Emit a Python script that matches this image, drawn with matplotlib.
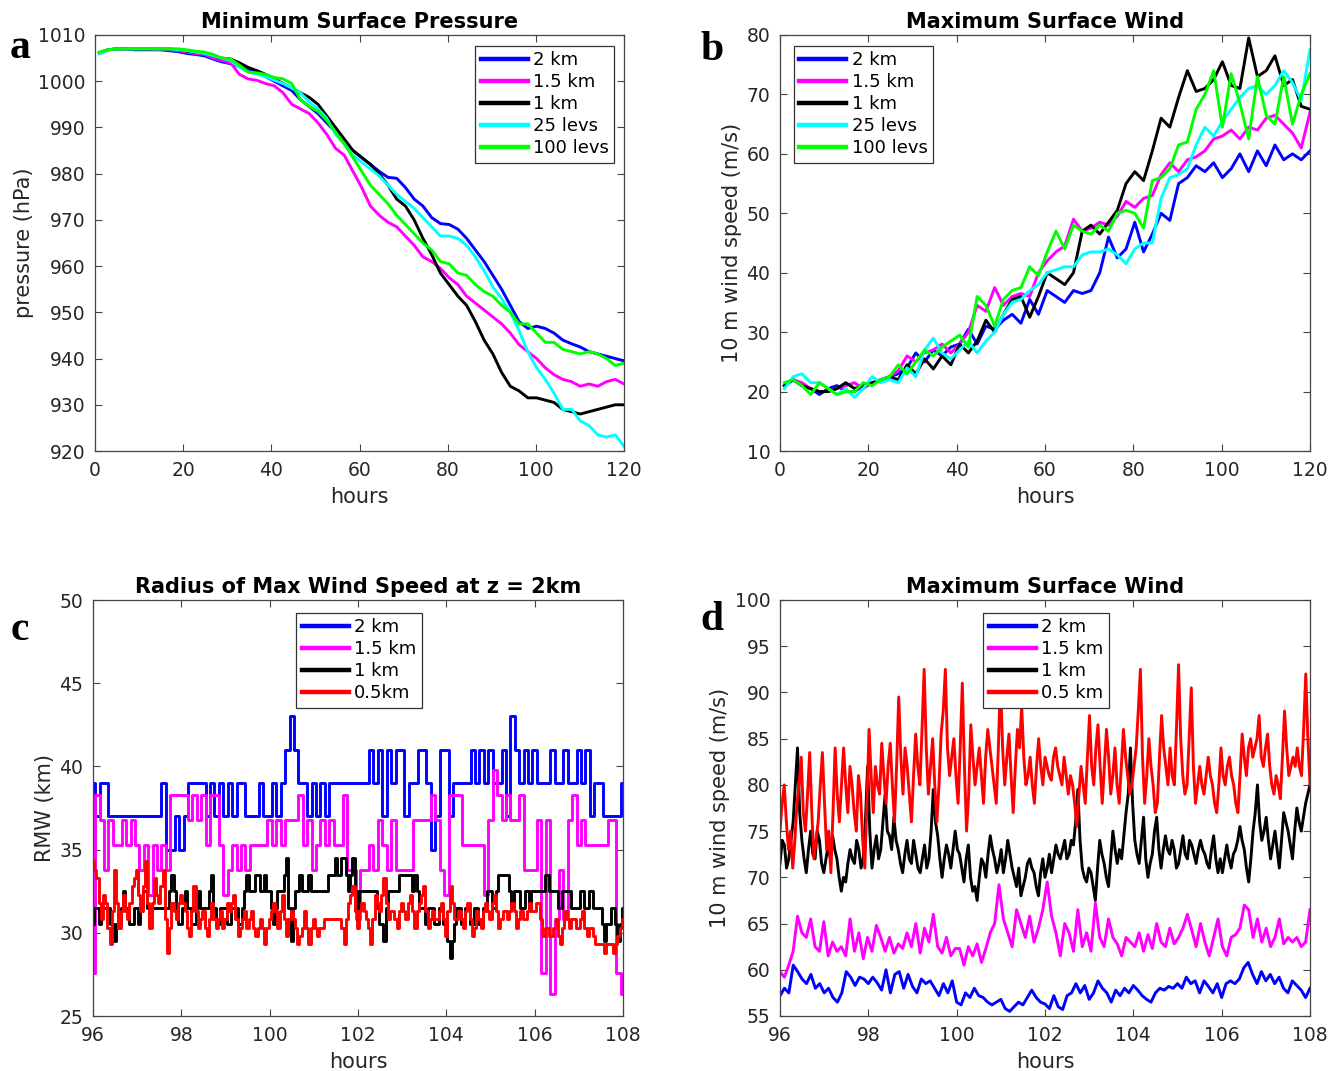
import numpy as np
import matplotlib
matplotlib.use("Agg")
import matplotlib.pyplot as plt

# ---------------- Panel a: Minimum Surface Pressure (hPa), ~2 h spacing 1..120 h
a_2km = [1006, 1006.8, 1007, 1007, 1006.8, 1006.8, 1006.8, 1006.8, 1006.6, 1006.4,
         1006, 1005.8, 1005.5, 1004.8, 1004.2, 1003.8, 1003.2, 1002.5, 1002, 1001,
         1000, 999, 998, 996, 994.5, 993, 991, 989, 986.5, 985,
         983.5, 982, 980.5, 979.2, 979, 977, 974.5, 973, 970.5, 969.2,
         969, 968, 966, 963.5, 961, 958, 955, 951.5, 948, 946.5,
         947, 946.5, 945.5, 944, 943.2, 942.5, 941.5, 941, 940.5, 940, 939.5]
a_15km = [1006, 1006.8, 1007, 1007, 1007, 1007, 1007, 1006.8, 1006.8, 1006.6,
          1006.3, 1006, 1005.8, 1005, 1004.5, 1004, 1001.5, 1000.5, 1000.2, 999.5,
          999, 997.5, 995, 994, 993, 991, 988.5, 985.5, 984, 980.5,
          977, 973, 971, 969.5, 968.5, 966.5, 964.5, 962, 961, 959.5,
          957.5, 956, 953.5, 952, 950.5, 949, 947.5, 945.5, 943, 941.5,
          940, 938, 936.5, 935.5, 935, 934, 934.5, 934, 935, 935.5, 934.5]
a_1km = [1006.2, 1006.8, 1007, 1007, 1007, 1007, 1007, 1007, 1007, 1006.8,
         1006.5, 1006.3, 1006, 1005.5, 1005, 1004.8, 1004, 1003, 1002.3, 1001.5,
         1000.5, 999.5, 998.5, 997.5, 996.5, 995, 992.5, 990, 987.5, 985,
         983.5, 982, 980, 977.5, 974.5, 973, 970, 966, 962.5, 958.5,
         956, 953.5, 951.5, 948, 944, 941, 937, 934, 933, 931.5,
         931.5, 931, 930.5, 929, 928.5, 928, 928.5, 929, 929.5, 930, 930]
a_25lev = [1006, 1006.8, 1007, 1007, 1007, 1007, 1007, 1007, 1007, 1006.8,
           1006.6, 1006.3, 1006, 1005.5, 1005, 1004.5, 1003, 1002, 1001.5, 1001,
           1000.2, 999.5, 998.5, 997.5, 995.5, 994, 992, 988.5, 986.5, 984,
           982.5, 981, 979.5, 977.5, 975.5, 974, 972.5, 970.5, 968.5, 966.5,
           966.5, 966, 964.5, 962, 959, 955.5, 953, 950, 946, 941.5,
           938, 935.5, 932.5, 929, 929, 926.5, 925.5, 923.5, 923, 923.5, 921]
a_100lev = [1006.3, 1006.8, 1007, 1007, 1007, 1007, 1007, 1007, 1007, 1007,
            1006.8, 1006.5, 1006.3, 1005.8, 1005, 1004.8, 1003.5, 1002, 1001.8, 1001.5,
            1000.8, 1000.5, 999.5, 996, 994.5, 993.5, 991.5, 989, 986.5, 983.5,
            980.5, 977.5, 975.5, 973.5, 971, 969, 967, 965, 963.5, 961,
            960.5, 958.5, 958, 956, 954.5, 953.5, 951.5, 950, 947.5, 947.5,
            945.5, 943.5, 943.5, 942, 941.5, 941, 941.5, 941, 940, 938.5, 939]

# ---------------- Panel b: Maximum Surface Wind (m/s)
b_2km = [21, 22, 21, 20.5, 19.5, 20.5, 21, 20, 20, 21,
         21.2, 22, 22.5, 23, 24, 26.5, 25, 27, 26, 27.5,
         28, 30.5, 28, 31, 30.5, 32, 33, 31.5, 35.5, 33,
         37, 36, 35, 37, 36.5, 37, 40, 46, 42.5, 44,
         48.5, 43.5, 46.5, 50, 48.8, 55, 56, 58, 57, 58.5,
         56, 57.5, 60, 57, 60.5, 58, 61.5, 59, 60, 59, 60.5]
b_15km = [21, 22, 21.5, 20.5, 20, 20, 20.5, 21, 21.5, 20.5,
          21.5, 22, 22.5, 23.5, 26, 25, 26.5, 27, 28, 26.5,
          28, 30, 34.5, 33.5, 37.5, 34.5, 36, 36.5, 36, 40,
          42, 43.5, 44.5, 49, 47, 47.5, 48.5, 48, 49.5, 52,
          51, 52.5, 53, 56.5, 58.5, 57, 59, 59.5, 60.5, 62.5,
          63, 64, 62.5, 64.5, 64, 66, 66.5, 65, 63.5, 61, 67]
b_1km = [21, 22, 21, 20.5, 20, 20, 20.5, 21.5, 20.5, 21,
         21.5, 21.8, 22.5, 22, 24.5, 23, 25.5, 23.8, 26, 24.5,
         28, 26.5, 28.5, 32, 30, 33, 35.5, 36, 32.5, 36,
         40, 39, 38, 40, 47, 48, 46.5, 48.5, 50.5, 55,
         57, 55.5, 60.5, 66, 64.5, 69.5, 74, 70.5, 71, 72.5,
         75.5, 71.5, 71, 79.5, 73, 74, 76.5, 71.5, 72.5, 68, 67.5]
b_25lev = [20.5, 22.5, 23, 21.5, 21.5, 20.5, 19.5, 20.5, 19, 20.5,
           22.5, 21.5, 22, 21.5, 24, 22.5, 27, 29, 26.5, 25.5,
           27, 28.5, 26.5, 28.5, 30, 33, 35, 35.5, 37, 38,
           40, 40.5, 41, 41, 43, 43.5, 43.5, 44, 43, 41.5,
           44, 45, 45, 52.5, 56, 56.5, 57.5, 61.5, 64.5, 63,
           65.5, 67.5, 69.5, 71, 71.5, 70, 71.5, 74, 72, 69, 77.5]
b_100lev = [21.5, 22, 21, 19.5, 21.5, 20.5, 19.5, 20, 20, 21.5,
            21, 22, 22.5, 24.5, 23, 25, 27, 26, 27.5, 28.5,
            29.5, 27.5, 36, 34.5, 31, 35.5, 37, 37.5, 41, 39.5,
            43.5, 47, 44, 48, 47, 46.5, 48, 47, 50, 50.5,
            50, 47.5, 55.5, 56, 57.5, 61.5, 62, 67.5, 70, 74,
            64.5, 73.5, 68.5, 62.5, 73, 66.5, 65, 73, 65, 70, 73.5]

# ---------------- Panel c: Radius of max wind at z = 2 km (km), 96..108 h
c_2km = [39, 37, 39, 39, 37, 37, 37, 37, 37, 37, 37, 37, 37, 37, 37, 37,
         39, 35, 35, 37, 35, 37, 39, 39, 39, 39, 37, 39, 37, 39, 37, 39,
         37, 39, 39, 37, 37, 37, 39, 37, 37, 39, 37, 39, 41, 43, 41, 39,
         39, 37, 39, 37, 39, 37, 39, 39, 39, 39, 39, 39, 39, 39, 39, 41,
         39, 41, 37, 41, 39, 41, 41, 37, 39, 39, 41, 41, 39, 35, 37, 41,
         41, 37, 39, 39, 39, 39, 41, 39, 41, 39, 41, 39, 39, 41, 37, 43,
         41, 39, 41, 39, 41, 39, 39, 39, 41, 39, 39, 41, 39, 39, 41, 39,
         41, 37, 39, 39, 37, 37, 37, 37, 39]
c_15km = [27.6, 38.3, 36.8, 33.8, 36.8, 35.3, 35.3, 36.8, 35.3, 36.8, 35.3, 33.8, 35.3, 32.3, 35.3, 33.8,
          35.3, 33.8, 38.3, 38.3, 38.3, 38.3, 36.8, 38.3, 36.8, 38.3, 35.3, 38.3, 38.3, 35.3, 32.3, 33.8,
          35.3, 33.8, 35.3, 33.8, 35.3, 35.3, 35.3, 35.3, 36.8, 35.3, 36.8, 35.3, 36.8, 36.8, 36.8, 38.3,
          35.3, 36.8, 33.8, 35.3, 36.8, 35.3, 36.8, 35.3, 35.3, 38.3, 33.8, 33.8, 30.8, 33.8, 33.8, 35.3,
          33.8, 36.8, 35.3, 33.8, 36.8, 33.8, 33.8, 33.8, 33.8, 36.8, 36.8, 36.8, 36.8, 38.3, 36.8, 33.8,
          32.3, 38.3, 38.3, 38.3, 35.3, 35.3, 35.3, 35.3, 35.3, 32.3, 36.8, 39.8, 38.3, 36.8, 38.3, 36.8,
          36.8, 38.3, 33.8, 33.8, 33.8, 36.8, 27.6, 36.8, 26.3, 30.8, 33.8, 30.8, 36.8, 38.3, 35.3, 36.8,
          35.3, 35.3, 35.3, 35.3, 35.3, 36.8, 36.8, 27.6, 26.3]
c_1km = [30.5, 31.5, 31.5, 30.5, 31.5, 31.5, 31.5, 31.5, 30.5, 30.5, 29.5, 30.5, 30.5, 31.5, 32.5, 31.5,
         31.5, 30.5, 30.5, 31.5, 31.5, 30.5, 31.5, 32.5, 32.5, 31.5, 31.5, 31.5, 31.5, 31.5, 31.5, 31.5,
         31.5, 31.5, 31.5, 32.5, 33.5, 32.5, 31.5, 30.5, 30.5, 31.5, 32.5, 31.5, 31.5, 30.5, 30.5, 31.5,
         32.5, 31.5, 31.5, 31.5, 31.5, 32.5, 33.5, 31.5, 30.5, 30.5, 31.5, 31.5, 31.5, 30.5, 30.5, 31.5,
         31.5, 31.5, 30.5, 30.5, 31.5, 32.5, 33.5, 32.5, 32.5, 32.5, 33.5, 33.5, 32.5, 32.5, 33.5, 32.5,
         32.5, 31.5, 30.5, 31.5, 32.5, 32.5, 32.5, 33.5, 34.5, 31.5, 29.5, 31.5, 32.5, 32.5, 33.5, 32.5,
         32.5, 32.5, 33.5, 32.5, 32.5, 32.5, 32.5, 32.5, 32.5, 32.5, 32.5, 33.5, 33.5, 33.5, 34.5, 33.5,
         33.5, 34.5, 34.5, 33.5, 32.5, 33.5, 34.5, 32.5, 31.5, 32.5, 32.5, 32.5, 32.5, 32.5, 32.5, 32.5,
         32.5, 31.5, 30.5, 30.5, 29.5, 31.5, 32.5, 32.5, 32.5, 32.5, 32.5, 33.5, 33.5, 33.5, 33.5, 33.5,
         33.5, 32.5, 33.5, 32.5, 31.5, 31.5, 31.5, 30.5, 31.5, 31.5, 31.5, 30.5, 30.5, 31.5, 31.5, 30.5,
         30.5, 29.5, 28.5, 29.5, 30.5, 31.5, 31.5, 30.5, 30.5, 31.5, 31.5, 30.5, 30.5, 31.5, 31.5, 30.5,
         30.5, 31.5, 31.5, 32.5, 32.5, 31.5, 31.5, 32.5, 33.5, 33.5, 33.5, 33.5, 33.5, 32.5, 31.5, 32.5,
         32.5, 32.5, 31.5, 31.5, 32.5, 32.5, 31.5, 32.5, 32.5, 32.5, 32.5, 32.5, 32.5, 33.5, 33.5, 32.5,
         32.5, 32.5, 32.5, 31.5, 31.5, 32.5, 32.5, 32.5, 32.5, 31.5, 31.5, 31.5, 31.5, 32.5, 32.5, 31.5,
         31.5, 32.5, 32.5, 31.5, 31.5, 31.5, 31.5, 30.5, 29.5, 30.5, 30.5, 31.5, 31.5, 30.5, 29.5, 30.5,
         31.5]
c_05km = [34.3, 33.8, 33.3, 31.8, 30.8, 32.3, 31.8, 30.3, 29.3, 31.3, 33.8, 31.8, 30.3, 31.3, 32.3, 31.3,
          30.8, 31.8, 32.8, 33.3, 33.8, 32.3, 31.3, 32.8, 34.3, 31.8, 30.3, 31.8, 33.3, 32.3, 31.8, 32.8,
          33.8, 30.8, 28.8, 30.3, 31.8, 31.3, 30.8, 31.8, 32.3, 31.8, 31.3, 30.3, 29.8, 31.3, 32.8, 31.3,
          30.3, 30.8, 31.3, 30.3, 29.8, 30.8, 31.8, 30.8, 30.3, 30.8, 31.3, 30.3, 30.8, 31.8, 31.3, 31.8,
          32.3, 30.8, 29.8, 30.3, 30.8, 31.3, 30.3, 30.8, 31.3, 30.3, 29.8, 30.3, 30.8, 30.3, 29.3, 30.3,
          30.8, 31.3, 31.8, 31.3, 30.3, 31.3, 32.3, 30.8, 29.8, 30.8, 31.3, 30.8, 30.3, 29.3, 29.8, 30.3,
          31.3, 30.3, 29.3, 30.3, 30.8, 30.3, 29.8, 30.3, 30.3, 30.8, 30.8, 30.8, 30.8, 30.8, 30.8, 30.8,
          30.8, 30.3, 29.3, 30.8, 31.8, 32.3, 32.8, 31.3, 30.3, 31.3, 31.8, 31.3, 30.8, 30.3, 29.3, 30.8,
          32.3, 31.8, 31.3, 32.3, 33.3, 31.8, 30.8, 31.3, 31.3, 30.8, 30.3, 31.3, 31.8, 31.3, 30.8, 31.8,
          32.3, 31.3, 30.3, 31.3, 31.8, 32.3, 32.8, 31.3, 30.3, 30.8, 31.3, 30.8, 30.8, 31.3, 31.8, 30.8,
          29.8, 31.3, 32.8, 31.8, 30.8, 30.8, 31.3, 30.8, 30.3, 31.3, 31.8, 30.8, 29.8, 30.3, 31.3, 30.8,
          30.3, 31.3, 31.8, 31.3, 30.8, 31.8, 32.3, 31.3, 30.3, 30.8, 31.3, 31.3, 30.8, 31.3, 31.8, 31.3,
          30.3, 30.8, 31.3, 30.8, 30.8, 31.3, 31.8, 31.3, 31.3, 31.8, 31.8, 30.8, 29.8, 30.3, 30.3, 29.8,
          29.8, 30.3, 30.8, 29.8, 29.3, 30.3, 31.3, 30.8, 30.3, 30.8, 30.8, 30.3, 30.3, 30.8, 31.3, 30.3,
          29.8, 30.3, 30.3, 29.8, 29.3, 29.3, 29.3, 29.3, 28.8, 29.3, 29.3, 29.3, 28.8, 29.3, 29.8, 30.3,
          30.8]

# ---------------- Panel d: Maximum surface wind (m/s), 96..108 h
d_2km = [57.2, 58, 57.5, 60.5, 59.8, 59, 58.5, 59.5, 58, 58.5, 57.5, 58, 57, 56.5, 57.5, 59.8,
         59.2, 58.3, 59.2, 59, 58.5, 59.2, 58.6, 57.8, 60, 57.5, 59.5, 59.8, 58, 59.5, 58.2, 57.5,
         59, 58.5, 58.8, 58, 57.2, 58.5, 57.5, 58.8, 56.5, 56.2, 57.5, 57, 58, 57.2, 57, 56.5,
         56.2, 56.5, 56.8, 55.8, 55.5, 56, 56.5, 56.2, 57, 57.8, 57, 56.5, 56.3, 55.8, 57.2, 56,
         55.7, 57.2, 57.5, 58.5, 57.5, 58.3, 56.8, 57.5, 58.8, 58, 57.5, 56.5, 57.8, 57.2, 58, 57.5,
         58.3, 57.8, 57.2, 56.8, 56.5, 57.5, 58, 57.8, 58.2, 58, 58.5, 58, 59.2, 58.5, 58.8, 57.5,
         58.8, 58.2, 57.5, 58.5, 57, 58.5, 58.8, 58.5, 59, 60.2, 60.8, 59.5, 58.5, 59.8, 58.8, 59.5,
         58.5, 59.2, 58, 57.5, 58.8, 58.3, 57.8, 57, 58]
d_15km = [59.8, 59.2, 60.5, 62, 65.8, 64, 63.5, 65.5, 62.5, 62, 65.2, 61.5, 63, 62, 62.5, 61.5,
          65.5, 62, 64, 61.2, 63.5, 62, 64.8, 63.5, 62, 63.5, 61.8, 62.8, 62.3, 64, 62.5, 65,
          61.8, 64.5, 63, 66, 62.5, 61.8, 63.5, 61.5, 62.3, 62.3, 60.5, 62.5, 61.5, 62.8, 60.8, 62.3,
          64, 65, 69.2, 65.5, 64, 62.5, 66.5, 65, 63.5, 65.8, 63, 64.5, 66.5, 69.5, 65.8, 64,
          61.5, 65, 64, 62, 66.5, 62.5, 64, 62, 67.2, 63.5, 62.5, 65.5, 63.5, 62.8, 61.5, 63.5,
          63, 62.5, 64, 62, 63.8, 62.3, 65, 63, 62.5, 64.5, 62.8, 63.5, 64.5, 66, 64.3, 62.5,
          65, 63, 61.5, 63.5, 65.5, 62.5, 61.5, 63.5, 63.8, 64.5, 67, 66.5, 63.5, 65.5, 63, 64.5,
          62.5, 63.5, 65.5, 62.8, 63.5, 63, 63.5, 62.5, 63, 66.5]
d_1km = [71.5, 74, 73.5, 71, 72, 74, 76, 80, 84, 77, 74, 72, 70.5, 73, 75, 72.5,
         72, 75, 74, 71.5, 70.5, 72, 73.5, 72, 74.5, 73, 72, 70, 68.5, 70, 69.5, 71.5,
         73, 72, 71.5, 74, 73, 71, 72, 76, 82, 75, 71, 73, 74.5, 72, 73, 76,
         79, 75, 74.5, 73, 76.5, 74, 73, 71.5, 70.5, 72.5, 74, 72, 71.5, 74, 72.5, 71,
         70.5, 72, 73.5, 71, 72, 75, 79.5, 76, 74.5, 72, 70, 72, 73.5, 72.5, 71, 73,
         75, 73, 72.5, 71, 69.5, 72, 73.5, 70, 68.5, 69, 67.5, 70, 72, 71.5, 70, 72.5,
         74.5, 73, 72, 70.5, 71.5, 73, 70.5, 72, 74, 72.5, 71, 70, 69, 71, 68, 69,
         70, 71.5, 72, 71, 70.5, 69, 68, 70.5, 72, 70, 71, 72.5, 70.5, 72, 73.5, 72.5,
         72, 73, 74, 72, 72.5, 74, 73.5, 76, 79.5, 74, 71, 70, 69.5, 71, 70.5, 69,
         67.5, 71, 74, 72.5, 71.5, 70, 69, 72, 75, 73, 71.5, 73, 72, 74.5, 77, 79,
         84, 78, 74, 72.5, 71.5, 74, 76.5, 72, 70, 71.5, 72.5, 75, 76.5, 73, 71, 73,
         74.5, 73, 72.5, 74, 73, 71, 71.5, 73, 74.5, 72.5, 72, 74, 73.5, 72.5, 71.5, 73,
         74, 73, 72.5, 71.5, 71, 73, 74.5, 72, 70.5, 72, 70.5, 72, 73.5, 72, 71, 72.5,
         73, 74, 75.5, 74, 73, 71, 69.5, 72, 75, 77, 80, 76, 74, 75, 76.5, 74,
         72, 73.5, 75, 73, 71, 74, 77, 76, 75, 73.5, 72, 75, 77.5, 76, 75, 76.5,
         78, 79, 80]
d_05km = [75, 78, 80, 76, 73, 75, 71, 74, 78, 80, 83, 77, 75, 79, 83.5, 77,
          72, 74, 76, 80, 83.5, 78, 73, 75, 70.5, 77, 84, 79, 76, 80, 84, 80,
          77, 82, 80, 77, 75, 81, 79, 74, 71, 78, 86, 81, 77, 82, 80, 79,
          84.5, 81, 78, 82, 84.5, 80, 76, 82, 89.5, 83, 79, 84, 82, 79, 76, 81,
          85.5, 82, 80, 86, 92.5, 84, 79, 82, 85, 80, 76, 80, 85.5, 88, 92.5, 84,
          81, 83, 85, 81, 78, 84, 91, 82, 75, 79, 86.5, 83, 80, 82, 84, 81,
          78, 83, 86, 84, 82, 80, 78, 84, 91.5, 84, 80, 83, 85.5, 81, 77, 82,
          86, 84, 88.5, 83, 80, 81, 83, 80, 78, 82, 85, 82, 80, 83, 82, 81,
          80.5, 83, 84, 82, 81, 80, 83, 81, 79, 81, 80, 78, 75.5, 79, 82, 80,
          78, 83, 87.5, 82, 80, 84, 86.5, 82, 78, 82, 86, 83, 79, 81, 84, 80,
          78, 82, 86, 83, 81, 79, 80, 82, 84, 88, 92.5, 83, 78, 81, 85, 82,
          80, 77, 78, 83, 87.5, 84, 82, 80, 84, 81, 80, 86, 93, 85, 81, 79,
          80, 85, 90.5, 82, 78, 80, 82, 80, 79, 81, 83, 81, 80, 78, 77, 80,
          84, 81, 80, 82, 83, 81, 80, 78, 77, 81, 85.5, 83, 81, 84, 85, 83,
          84, 85, 87.5, 83, 82, 84, 85.5, 82, 80, 79, 81, 80, 78.5, 83, 88, 84,
          81, 82, 83, 82, 84, 82, 81, 86, 92, 85, 80]

labels_ab = ["2 km", "1.5 km", "1 km", "25 levs", "100 levs"]
colors_ab = ["#0000ff", "#ff00ff", "#000000", "#00ffff", "#00ff00"]
labels_c = ["2 km", "1.5 km", "1 km", "0.5km"]
labels_d = ["2 km", "1.5 km", "1 km", "0.5 km"]
colors_cd = ["#0000ff", "#ff00ff", "#000000", "#ff0000"]

plt.rcParams['font.family'] = ['DejaVu Sans']
TXT = '#262626'

fig = plt.figure(figsize=(13.4, 10.71), dpi=100)
W, H = 1340, 1071

def mk_ax(x0, x1, ytop, ybot):
    return fig.add_axes([x0 / W, 1 - ybot / H, (x1 - x0) / W, (ybot - ytop) / H])

axa = mk_ax(95, 624, 35, 451)
axb = mk_ax(780, 1310, 35, 451)
axc = mk_ax(93, 623, 600, 1016)
axd = mk_ax(780, 1310, 600, 1016)

def style(ax, title, ylabel):
    ax.set_title(title, fontsize=15, fontweight='bold', pad=5)
    ax.set_xlabel('hours', fontsize=15, color=TXT, labelpad=5)
    ax.set_ylabel(ylabel, fontsize=15, color=TXT, labelpad=3)
    ax.tick_params(direction='in', top=True, right=True, length=5, width=0.8,
                   labelsize=13.5, labelcolor=TXT, color='#444444', pad=7)
    for s in ax.spines.values():
        s.set_color('#444444')
        s.set_linewidth(0.9)

def legend(ax, **kw):
    leg = ax.legend(fontsize=13, handlelength=2.6, handletextpad=0.3,
                    labelspacing=0.22, borderpad=0.3, fancybox=False,
                    edgecolor='#333333', framealpha=1, borderaxespad=0, **kw)
    leg.get_frame().set_linewidth(0.9)
    for h in leg.get_lines():
        h.set_linewidth(3.2)
    return leg

LW = 2.1
# Panel a
ta = np.linspace(1, 120, len(a_2km))
for y, c, l in zip([a_2km, a_15km, a_1km, a_25lev, a_100lev], colors_ab, labels_ab):
    axa.plot(ta, y, color=c, lw=LW, label=l)
axa.set_xlim(0, 120)
axa.set_ylim(920, 1010)
axa.set_xticks(range(0, 121, 20))
axa.set_yticks(range(920, 1011, 10))
style(axa, 'Minimum Surface Pressure', 'pressure (hPa)')
legend(axa, loc='upper right', bbox_to_anchor=(0.982, 0.974))

# Panel b
tb = np.linspace(1, 120, len(b_2km))
for y, c, l in zip([b_2km, b_15km, b_1km, b_25lev, b_100lev], colors_ab, labels_ab):
    axb.plot(tb, y, color=c, lw=LW, label=l)
axb.set_xlim(0, 120)
axb.set_ylim(10, 80)
axb.set_xticks(range(0, 121, 20))
axb.set_yticks(range(10, 81, 10))
style(axb, 'Maximum Surface Wind', '10 m wind speed (m/s)')
legend(axb, loc='upper left', bbox_to_anchor=(0.026, 0.974))

# Panel c
for y, c, l in zip([c_2km, c_15km, c_1km, c_05km], colors_cd, labels_c):
    tc = np.linspace(96, 108, len(y))
    axc.plot(tc, y, color=c, lw=LW, label=l, drawstyle='steps-mid')
axc.set_xlim(96, 108)
axc.set_ylim(25, 50)
axc.set_xticks(range(96, 109, 2))
axc.set_yticks(range(25, 51, 5))
style(axc, 'Radius of Max Wind Speed at z = 2km', 'RMW (km)')
legend(axc, loc='upper center', bbox_to_anchor=(0.502, 0.969))

# Panel d
for y, c, l in zip([d_2km, d_15km, d_1km, d_05km], colors_cd, labels_d):
    td = np.linspace(96, 108, len(y))
    axd.plot(td, y, color=c, lw=LW, label=l)
axd.set_xlim(96, 108)
axd.set_ylim(55, 100)
axd.set_xticks(range(96, 109, 2))
axd.set_yticks(range(55, 101, 5))
style(axd, 'Maximum Surface Wind', '10 m wind speed (m/s)')
legend(axd, loc='upper center', bbox_to_anchor=(0.502, 0.969))

# Panel letters
for txt, x, y in [('a', 20, 48), ('b', 712, 50), ('c', 20, 630), ('d', 712, 620)]:
    fig.text(x / W, 1 - y / H, txt, family='Liberation Serif', fontsize=30,
             fontweight='bold', ha='center', va='center')

fig.savefig('out.png', dpi=100)
